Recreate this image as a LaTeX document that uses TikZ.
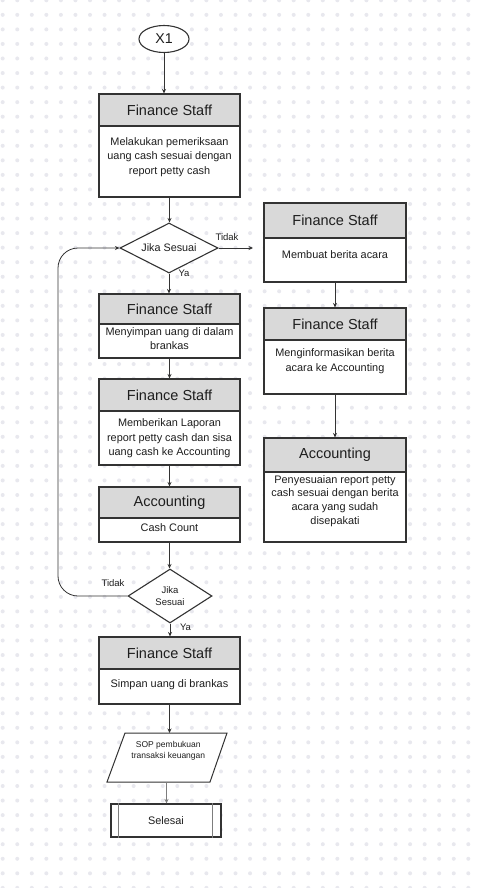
\documentclass[tikz,border=0pt]{standalone}
\usepackage{fontspec}
\setmainfont{Liberation Sans}
\usetikzlibrary{arrows.meta,shapes.geometric,calc}
\definecolor{dotc}{RGB}{232,232,238}
\definecolor{linec}{RGB}{51,51,51}
\definecolor{hdrc}{RGB}{217,217,217}
\definecolor{txtc}{RGB}{30,30,30}
\definecolor{greyl}{RGB}{125,125,125}
\begin{document}
\begin{tikzpicture}[x=1pt,y=-1pt,
  hdr/.style={draw=linec, line width=1.1pt, fill=hdrc, minimum width=141pt, inner sep=0pt, text=txtc, font=\fontsize{14.5}{17}\selectfont},
  bodyb/.style={draw=linec, line width=1.1pt, fill=white, minimum width=141pt, inner sep=0pt},
  btxt/.style={text=txtc, align=center, inner sep=0pt, font=\fontsize{10.9}{14.5}\selectfont},
  conn/.style={draw=linec, line width=0.8pt, -{Stealth[length=4.5pt,width=4pt]}},
  lbl/.style={text=txtc, inner sep=0pt, font=\fontsize{9.5}{11}\selectfont},
  dec/.style={diamond, draw=linec, line width=1.1pt, fill=white, inner sep=0pt, aspect=2, text=txtc}
]
\useasboundingbox (0,0) rectangle (482,888);
\fill[white] (0,0) rectangle (482,888);
\foreach \i in {0,...,32}{
  \foreach \j in {0,...,61}{
    \fill[dotc] ({2.7+\i*14.55},{0.3+\j*14.55}) circle (2);
  }
}

% start
\node[ellipse, draw=linec, line width=1.1pt, fill=white, minimum width=50pt, minimum height=27pt, inner sep=0pt, text=txtc, font=\fontsize{14.2}{17}\selectfont] (x1) at (164,39) {X1};

% box 1
\node[hdr, minimum height=32pt] (h1) at (169.5,110) {Finance Staff};
\node[bodyb, minimum height=71pt] (b1) at (169.5,161.5) {};
\node[btxt] (t1) at (169.5,157) {Melakukan pemeriksaan\\uang cash sesuai dengan\\report petty cash};

% decision 1
\node[dec, minimum width=98pt, minimum height=50pt, font=\fontsize{10.8}{13}\selectfont] (d1) at (169,248) {Jika Sesuai};

% box 2
\node[hdr, minimum height=30pt] (h2) at (169.5,309) {Finance Staff};
\node[bodyb, minimum height=34pt] (b2) at (169.5,341) {};
\node[btxt] (t2) at (169.5,338.7) {Menyimpan uang di dalam\\brankas};

% box 3
\node[hdr, minimum height=32pt] (h3) at (169.5,395) {Finance Staff};
\node[bodyb, minimum height=54pt] (b3) at (169.5,438) {};
\node[btxt] (t3) at (169.5,438.5) {Memberikan Laporan\\report petty cash dan sisa\\uang cash ke Accounting};

% box 4
\node[hdr, minimum height=31pt] (h4) at (169.5,502.5) {Accounting};
\node[bodyb, minimum height=24pt] (b4) at (169.5,530) {};
\node[btxt] (t4) at (169.5,527.3) {Cash Count};

% decision 2
\node[dec, aspect=1.5, minimum width=84pt, minimum height=54pt, align=center, font=\fontsize{9.5}{12.7}\selectfont] (d2) at (170,596) {Jika\\Sesuai};

% box 5
\node[hdr, minimum height=32pt] (h5) at (169.5,653) {Finance Staff};
\node[bodyb, minimum height=35pt] (b5) at (169.5,686.5) {};
\node[btxt] (t5) at (169.5,684.3) {Simpan uang di brankas};

% right column
\node[hdr, minimum width=142pt, minimum height=35pt] (hr1) at (335,220.5) {Finance Staff};
\node[bodyb, minimum width=142pt, minimum height=44pt] (br1) at (335,260) {};
\node[btxt] (tr1) at (335,255) {Membuat berita acara};

\node[hdr, minimum width=142pt, minimum height=32pt] (hr2) at (335,324) {Finance Staff};
\node[bodyb, minimum width=142pt, minimum height=54pt] (br2) at (335,367) {};
\node[btxt, font=\fontsize{10.9}{15.5}\selectfont] (tr2) at (335,361) {Menginformasikan berita\\acara ke Accounting};

\node[hdr, minimum width=142pt, minimum height=34pt] (hr3) at (335,455) {Accounting};
\node[bodyb, minimum width=142pt, minimum height=70pt] (br3) at (335,507) {};
\node[btxt, font=\fontsize{10.9}{13.7}\selectfont] (tr3) at (335,501) {Penyesuaian report petty\\cash sesuai dengan berita\\acara yang sudah\\disepakati};

% document shape
\coordinate (pTL) at (125,733);
\coordinate (pTR) at (227,733);
\coordinate (pBR) at (210,782);
\coordinate (pBL) at (107,782);
\coordinate (pTop) at (169.5,733);
\coordinate (pBot) at (166.5,782);
\filldraw[draw=linec, line width=1pt, fill=white] (pTL) -- (pTR) -- (pBR) -- (pBL) -- cycle;
\node[btxt, font=\fontsize{8.5}{11}\selectfont] (sop) at (168.3,750.5) {SOP pembukuan\\transaksi keuangan};

% end
\node[draw=linec, line width=1.1pt, fill=white, minimum width=110pt, minimum height=33pt, inner sep=0pt, text=txtc, font=\fontsize{10.9}{13}\selectfont] (sel) at (166,820.5) {Selesai};
\draw[greyl, line width=1pt] ([xshift=8pt]sel.north west) -- ([xshift=8pt]sel.south west);
\draw[greyl, line width=1pt] ([xshift=-9pt]sel.north east) -- ([xshift=-9pt]sel.south east);

% connectors
\draw[conn] (x1.south) -- (x1.south |- h1.north);
\draw[conn] (b1.south) -- (b1.south |- d1.north);
\draw[conn] (d1.south) -- (d1.south |- h2.north);
\draw[conn] (b2.south) -- (h3.north);
\draw[conn] (b3.south) -- (h4.north);
\draw[conn] (b4.south) -- (b4.south |- d2.north);
\draw[conn] (d2.south) -- (d2.south |- h5.north);
\draw[conn] (b5.south) -- (pTop);
\draw[conn, draw=greyl] (pBot) -- (pBot |- sel.north);
\coordinate (tEnd) at (253,248);
\draw[conn] (d1.east) -- (tEnd);
\draw[conn] (br1.south) -- (hr2.north);
\draw[conn] (br2.south) -- (hr3.north);
\coordinate (loopX) at (58,400);
\draw[conn, rounded corners=20pt] (d2.west) -| (loopX |- d1.west) -- (d1.west);

% labels
\node[lbl] (l1) at (227,237) {Tidak};
\node[lbl] (l2) at (184,273.5) {Ya};
\node[lbl] (l3) at (113,582.7) {Tidak};
\node[lbl] (l4) at (185.5,627) {Ya};
\end{tikzpicture}
\end{document}
